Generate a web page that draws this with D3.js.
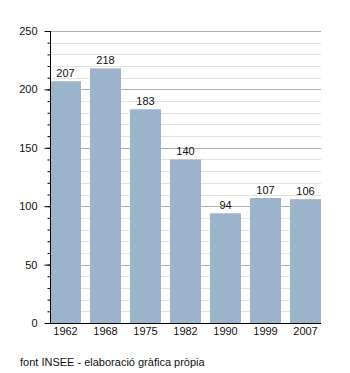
<!DOCTYPE html>
<html>
<head>
<meta charset="utf-8">
<script src="https://cdn.jsdelivr.net/npm/d3@7"></script>
<style>
  html, body { margin: 0; padding: 0; background: #fff; }
  svg { display: block; font-family: "Liberation Sans", Arial, sans-serif; }
</style>
</head>
<body>
<svg id="chart" width="350" height="373"></svg>
<script>
// Population by census year
const years = ["1962", "1968", "1975", "1982", "1990", "1999", "2007"];
const population = [207, 218, 183, 140, 94, 107, 106];
const majorTicks = [0, 50, 100, 150, 200, 250];
const minorTicks = d3.range(0, 251, 10);
const sourceNote = "font INSEE - elaboració gràfica pròpia";

const svg = d3.select("#chart");
const plotLeft = 50, plotRight = 321, plotTop = 31, plotBottom = 323;

const x = d3.scaleBand().domain(years).range([plotLeft, plotRight])
  .paddingInner(0.225).paddingOuter(0);
const y = d3.scaleLinear().domain([0, 250]).range([plotBottom, plotTop]);

// minor gridlines
svg.append("g").selectAll("line")
  .data(minorTicks.filter(v => v % 50 !== 0))
  .join("line")
  .attr("x1", plotLeft).attr("x2", plotRight)
  .attr("y1", d => Math.round(y(d)) + 0.5).attr("y2", d => Math.round(y(d)) + 0.5)
  .attr("stroke", "#e2e2e2").attr("stroke-width", 1);

// major gridlines
svg.append("g").selectAll("line")
  .data(majorTicks.filter(v => v > 0))
  .join("line")
  .attr("x1", plotLeft).attr("x2", plotRight)
  .attr("y1", d => Math.round(y(d)) + 0.5).attr("y2", d => Math.round(y(d)) + 0.5)
  .attr("stroke", "#b0b0b0").attr("stroke-width", 1);

// bars
svg.append("g").selectAll("rect")
  .data(years.map((yr, i) => ({ yr, v: population[i] })))
  .join("rect")
  .attr("x", d => x(d.yr))
  .attr("width", x.bandwidth())
  .attr("y", d => y(d.v))
  .attr("height", d => y(0) - y(d.v))
  .attr("fill", "#9bb4cc");

// value labels
svg.append("g").selectAll("text")
  .data(years.map((yr, i) => ({ yr, v: population[i] })))
  .join("text")
  .attr("x", d => x(d.yr) + x.bandwidth() / 2)
  .attr("y", d => y(d.v) - 4)
  .attr("text-anchor", "middle")
  .attr("font-size", 11)
  .attr("fill", "#111")
  .text(d => d.v);

// y axis with minor ticks
const yMinor = d3.axisLeft(y).tickValues(minorTicks).tickSize(3).tickFormat("");
svg.append("g").attr("transform", `translate(${plotLeft + 0.5},0)`).call(yMinor)
  .call(g => g.select(".domain").remove())
  .call(g => g.selectAll("line").attr("stroke", "#000"));

const yAxis = d3.axisLeft(y).tickValues(majorTicks).tickSize(6).tickPadding(7);
svg.append("g").attr("transform", `translate(${plotLeft + 0.5},0)`).call(yAxis)
  .call(g => g.select(".domain").attr("d", `M0,${plotTop}V${plotBottom}`).attr("stroke", "#000"))
  .call(g => g.selectAll("line").attr("stroke", "#000"))
  .call(g => g.selectAll("text").attr("font-size", 11).attr("fill", "#111")
    .attr("font-family", "Liberation Sans, Arial, sans-serif"));

// x axis
const xAxis = d3.axisBottom(x).tickSize(0).tickPadding(4);
svg.append("g").attr("transform", `translate(0,${plotBottom + 0.5})`).call(xAxis)
  .call(g => g.select(".domain").attr("d", `M${plotLeft},0H${plotRight}`).attr("stroke", "#000"))
  .call(g => g.selectAll("text").attr("font-size", 11).attr("fill", "#111")
    .attr("font-family", "Liberation Sans, Arial, sans-serif"));

// source note
svg.append("text")
  .attr("x", 20).attr("y", 366)
  .attr("font-size", 11).attr("fill", "#111")
  .text(sourceNote);
</script>
</body>
</html>
